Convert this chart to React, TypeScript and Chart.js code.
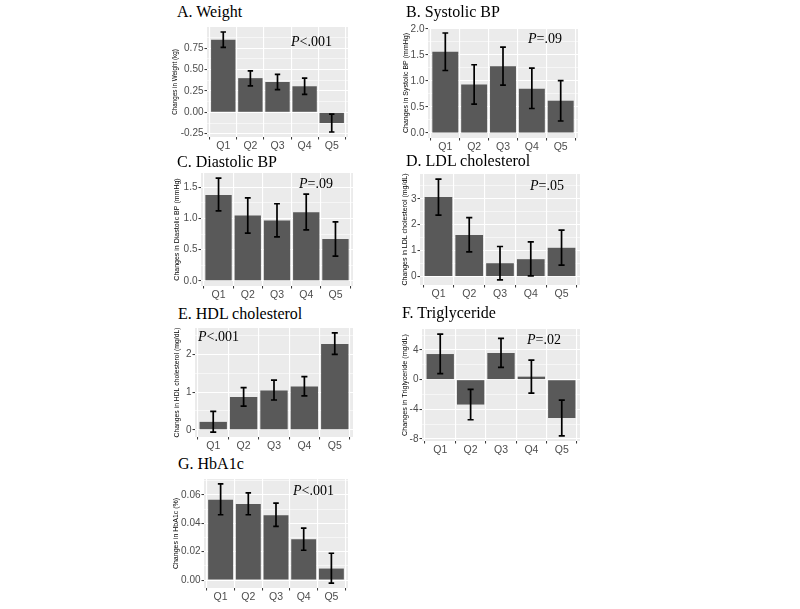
import React, { useEffect, useRef } from "react";
import { Chart, registerables } from "chart.js";

Chart.register(...registerables);

// ---------- data ----------
const quintiles = ["Q1", "Q2", "Q3", "Q4", "Q5"];

const weightMean = [0.85, 0.40, 0.355, 0.305, -0.125];
const weightLow = [0.76, 0.31, 0.265, 0.21, -0.23];
const weightHigh = [0.94, 0.485, 0.445, 0.40, -0.02];

const sbpMean = [1.56, 0.93, 1.28, 0.85, 0.62];
const sbpLow = [1.20, 0.555, 0.92, 0.47, 0.23];
const sbpHigh = [1.92, 1.31, 1.65, 1.245, 1.005];

const dbpMean = [1.376, 1.048, 0.968, 1.097, 0.671];
const dbpLow = [1.12, 0.763, 0.703, 0.816, 0.397];
const dbpHigh = [1.645, 1.33, 1.235, 1.39, 0.945];

const ldlMean = [3.07, 1.60, 0.515, 0.67, 1.11];
const ldlLow = [2.37, 0.95, -0.13, 0.03, 0.44];
const ldlHigh = [3.76, 2.27, 1.16, 1.34, 1.79];

const hdlMean = [0.21, 0.87, 1.045, 1.15, 2.28];
const hdlLow = [-0.06, 0.63, 0.79, 0.90, 2.0];
const hdlHigh = [0.49, 1.12, 1.32, 1.41, 2.57];

const tgMean = [3.45, -3.36, 3.59, 0.4, -5.18];
const tgLow = [0.82, -5.41, 1.64, -1.82, -7.59];
const tgHigh = [6.14, -1.32, 5.55, 2.64, -2.77];

const a1cMean = [0.0565, 0.0535, 0.0457, 0.0287, 0.0081];
const a1cLow = [0.046, 0.046, 0.0378, 0.021, -0.0021];
const a1cHigh = [0.0677, 0.0614, 0.0542, 0.0366, 0.0189];

const panelTitles = [
  "A. Weight",
  "B. Systolic BP",
  "C. Diastolic BP",
  "D. LDL cholesterol",
  "E. HDL cholesterol",
  "F. Triglyceride",
  "G. HbA1c",
];
const yTitles = [
  "Changes in Weight (kg)",
  "Changes in Systolic BP (mmHg)",
  "Changes in Diastolic BP (mmHg)",
  "Changes in LDL cholesterol (mg/dL)",
  "Changes in HDL cholesterol (mg/dL)",
  "Changes in Triglyceride (mg/dL)",
  "Changes in HbA1c (%)",
];
const pValues = ["<.001", "=.09", "=.09", "=.05", "<.001", "=.02", "<.001"];
const majorSteps = [0.25, 0.5, 0.5, 1, 1, 4, 0.02];
const tickDecimals = [2, 1, 1, 0, 0, 0, 2];
const series = [
  [weightMean, weightLow, weightHigh],
  [sbpMean, sbpLow, sbpHigh],
  [dbpMean, dbpLow, dbpHigh],
  [ldlMean, ldlLow, ldlHigh],
  [hdlMean, hdlLow, hdlHigh],
  [tgMean, tgLow, tgHigh],
  [a1cMean, a1cLow, a1cHigh],
];

// ---------- layout (page pixels) ----------
// plot panel box [left, top, right, bottom]
const panelBoxes = [
  [207, 27, 348, 137],
  [428, 28, 578, 138],
  [201, 173, 353, 286],
  [420, 174, 580, 285],
  [195, 328, 353, 437],
  [422, 329, 580, 441],
  [204, 479, 348, 588],
];
const yTitleXs = [175, 406, 177, 405, 177, 405, 176];
const yTitleSizes = [6.3, 7, 7, 7, 6.8, 7.2, 7];
const titlePos = [
  [177, 12.3],
  [406, 12.3],
  [177, 161.5],
  [406, 160.5],
  [178, 313.7],
  [402, 312.8],
  [178, 463.8],
];
const pPos = [
  [291, 41.7],
  [528, 39.2],
  [299, 183.8],
  [530, 186.2],
  [198, 337.2],
  [527, 339.5],
  [293, 491.2],
];

const TOP_PAD = 4;
const RIGHT_PAD = 6;
const X_AXIS_H = 18;

const errorBarPlugin = {
  id: "errorBars",
  beforeDraw(chart: any) {
    const { ctx, chartArea } = chart;
    ctx.save();
    ctx.fillStyle = "#EBEBEB";
    ctx.fillRect(chartArea.left, chartArea.top, chartArea.right - chartArea.left, chartArea.bottom - chartArea.top);
    ctx.restore();
  },
  afterDatasetsDraw(chart: any) {
    const opts = chart.options.plugins.errorBars;
    if (!opts) return;
    const { ctx } = chart;
    const xs = chart.scales.x;
    const ys = chart.scales.y;
    const half = Math.abs(xs.getPixelForValue(1.1) - xs.getPixelForValue(1));
    ctx.save();
    ctx.strokeStyle = "#000000";
    ctx.lineWidth = 1.7;
    opts.low.forEach((lo: number, i: number) => {
      const hi = opts.high[i];
      const x = xs.getPixelForValue(i + 1);
      const y1 = ys.getPixelForValue(lo);
      const y2 = ys.getPixelForValue(hi);
      ctx.beginPath();
      ctx.moveTo(x, y1);
      ctx.lineTo(x, y2);
      ctx.moveTo(x - half, y1);
      ctx.lineTo(x + half, y1);
      ctx.moveTo(x - half, y2);
      ctx.lineTo(x + half, y2);
      ctx.stroke();
    });
    ctx.restore();
  },
};

function Panel({ idx }: { idx: number }) {
  const ref = useRef<HTMLCanvasElement | null>(null);
  const [mean, low, high] = series[idx];
  const [L, T, R, B] = panelBoxes[idx];
  const canvasLeft = Math.round(yTitleXs[idx] - (yTitleSizes[idx] * 1.2) / 2);
  const yw = L - canvasLeft;
  const width = R - L + yw + RIGHT_PAD;
  const height = B - T + TOP_PAD + X_AXIS_H;

  useEffect(() => {
    if (!ref.current) return;
    const major = majorSteps[idx];
    const lo = Math.min(0, ...low);
    const hi = Math.max(0, ...high);
    const pad = (hi - lo) * 0.05;
    const isMajor = (v: number) => Math.abs(v / major - Math.round(v / major)) < 1e-6;

    const chart = new Chart(ref.current, {
      type: "bar",
      data: {
        datasets: [
          {
            data: mean.map((v, i) => ({ x: i + 1, y: v })),
            backgroundColor: "#595959",
            borderWidth: 0,
            barPercentage: 0.9,
            categoryPercentage: 1.0,
          },
        ],
      },
      options: {
        animation: false,
        responsive: false,
        maintainAspectRatio: false,
        layout: { padding: { top: TOP_PAD, right: RIGHT_PAD, left: 0, bottom: 0 } },
        plugins: {
          legend: { display: false },
          tooltip: { enabled: false },
          title: { display: false },
          errorBars: { low, high },
        } as any,
        scales: {
          x: {
            type: "linear",
            min: 0.4,
            max: 5.6,
            offset: false,
            border: { display: false },
            grid: {
              color: "#FFFFFF",
              lineWidth: 1.1,
              tickColor: "#333333",
              tickLength: 2.5,
              tickWidth: 1,
            },
            ticks: {
              stepSize: 1,
              includeBounds: false,
              autoSkip: false,
              maxRotation: 0,
              padding: 0,
              color: "#4D4D4D",
              font: { family: "Liberation Sans", size: 10.5 },
              callback: (v: any) => quintiles[Math.round(Number(v)) - 1] ?? "",
            },
            afterFit: (s: any) => {
              s.height = X_AXIS_H;
              s.paddingLeft = 0;
              s.paddingRight = 0;
            },
          },
          y: {
            type: "linear",
            min: lo - pad,
            max: hi + pad,
            border: { display: false },
            grid: {
              color: "#FFFFFF",
              lineWidth: (c: any) => (isMajor(c.tick.value) ? 1.1 : 0.55),
              tickColor: (c: any) => (isMajor(c.tick.value) ? "#333333" : "rgba(0,0,0,0)"),
              tickLength: 2.5,
              tickWidth: 1,
            },
            ticks: {
              stepSize: major / 2,
              includeBounds: false,
              autoSkip: false,
              padding: 1,
              color: "#4D4D4D",
              font: { family: "Liberation Sans", size: 10 },
              callback: (v: any) => (isMajor(Number(v)) ? Number(v).toFixed(tickDecimals[idx]) : ""),
            },
            title: {
              display: true,
              text: yTitles[idx],
              color: "#000000",
              padding: 0,
              font: { family: "Liberation Sans", size: yTitleSizes[idx] },
            },
            afterFit: (s: any) => {
              s.width = yw;
              s.paddingTop = 0;
              s.paddingBottom = 0;
            },
          },
        },
      } as any,
      plugins: [errorBarPlugin],
    });
    return () => chart.destroy();
  }, [idx]);

  return (
    <>
      <canvas
        ref={ref}
        width={width}
        height={height}
        style={{ position: "absolute", left: canvasLeft, top: T - TOP_PAD, width, height }}
      />
      <div
        style={{
          position: "absolute",
          left: titlePos[idx][0],
          top: titlePos[idx][1] - 8,
          font: '16px "Liberation Serif"',
          lineHeight: "16px",
          whiteSpace: "nowrap",
          color: "#000",
        }}
      >
        {panelTitles[idx]}
      </div>
      <div
        style={{
          position: "absolute",
          left: pPos[idx][0],
          top: pPos[idx][1] - 7,
          font: '14px "Liberation Serif"',
          lineHeight: "14px",
          whiteSpace: "nowrap",
          color: "#000",
        }}
      >
        <i>P</i>
        {pValues[idx]}
      </div>
    </>
  );
}

export default function App() {
  return (
    <div style={{ position: "absolute", left: 0, top: 0, width: 800, height: 609, background: "#fff" }}>
      {panelTitles.map((_, i) => (
        <Panel key={i} idx={i} />
      ))}
    </div>
  );
}
